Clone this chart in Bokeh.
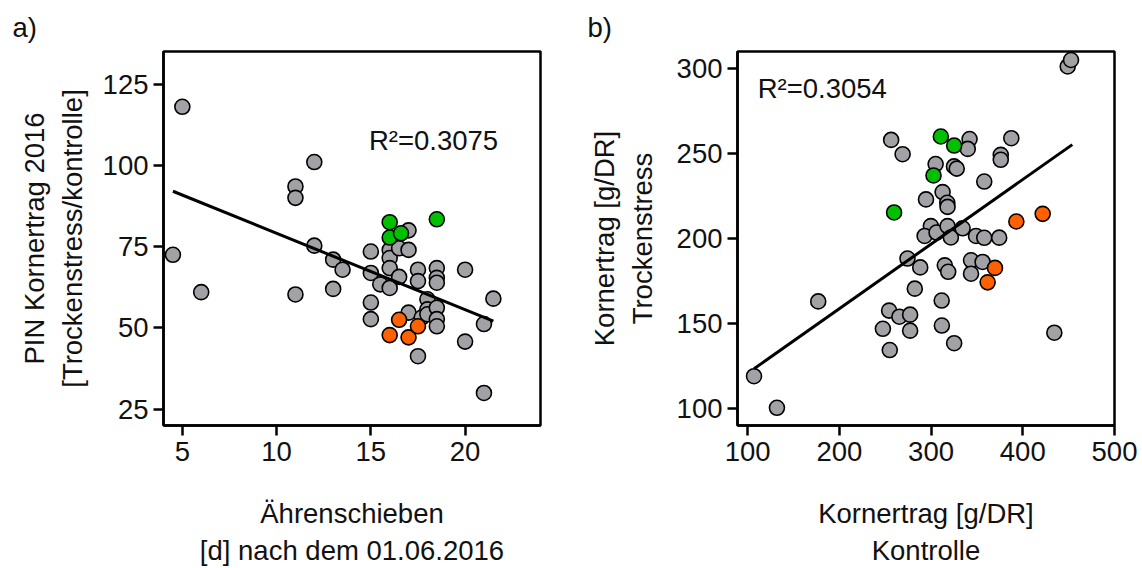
from bokeh.plotting import figure
from bokeh.layouts import row
from bokeh.models import FixedTicker, Label, Range1d, Title
from bokeh.embed import file_html
from bokeh.resources import INLINE

FONT = "Liberation Sans"
FS = "27.5px"
GREY = "#a2a2a6"
GREEN = "#00c000"
ORANGE = "#ff6000"

# ---- a) heading date vs. relative grain yield (drought / control) ----
a_grey_x = [4.5, 5.0, 6.0, 11.0, 11.0, 11.0, 12.0, 12.0, 13.0, 13.0, 13.5,
            15.0, 15.0, 15.0, 15.0, 15.5, 16.0, 16.0, 16.0, 16.0, 16.5, 16.5,
            17.0, 17.0, 17.0, 17.5, 17.5, 17.5, 17.7, 18.0, 18.0, 18.0,
            18.5, 18.5, 18.5, 18.5, 18.5, 18.5, 20.0, 20.0, 21.0, 21.0, 21.5]
a_grey_y = [72.5, 118.0, 61.0, 93.5, 90.0, 60.3, 101.0, 75.3, 71.0, 62.0, 67.9,
            73.5, 66.9, 57.8, 52.7, 63.4, 74.0, 71.5, 68.4, 62.3, 74.5, 65.7,
            80.0, 74.0, 54.7, 67.9, 64.4, 41.3, 53.2, 58.8, 55.7, 54.2,
            68.4, 65.4, 63.9, 56.2, 52.7, 50.5, 67.9, 45.8, 51.2, 30.0, 59.0]
a_green_x = [16.0, 16.0, 16.6, 18.5]
a_green_y = [82.5, 77.8, 79.1, 83.4]
a_orange_x = [16.5, 16.0, 17.0, 17.5]
a_orange_y = [52.5, 47.8, 47.1, 50.5]
a_fit_intercept, a_fit_slope = 102.6, -2.35
a_fit_x = [4.5, 21.5]
a_r2 = "R²=0.3075"
a_xticks = [5, 10, 15, 20]
a_yticks = [25, 50, 75, 100, 125]

# ---- b) grain yield control vs. drought stress ----
b_grey_x = [107, 132, 177, 256.5, 269, 305, 325, 328, 342, 340, 387.5, 376, 376,
            358, 312.6, 294.5, 317.7, 318, 299.8, 293, 306, 318, 321.6, 334.4,
            349, 358, 374.3, 274.3, 288.2, 315, 318.7, 343.6, 356.2, 343.6,
            282.3, 311.6, 254.3, 265.5, 277.2, 247.5, 277.2, 255, 311.8, 325.2,
            434.4, 449, 452.6]
b_grey_y = [119, 100.4, 163, 258, 249.6, 243.8, 242.4, 241.1, 258.5, 252.7, 259, 249.2, 246.3,
            233.5, 227.3, 223, 221, 218.6, 207.3, 201.5, 203.5, 207.3, 200.6, 206,
            201.5, 200.4, 200.5, 188.2, 183, 184.2, 180.4, 187.2, 186.2, 179.3,
            170.5, 163.5, 157.6, 154, 155.2, 146.9, 145.8, 134.4, 148.8, 138.4,
            144.6, 301.2, 305]
b_green_x = [259.7, 310.7, 325.2, 302.7]
b_green_y = [215.3, 260.0, 254.7, 237.1]
b_orange_x = [393.0, 421.7, 369.7, 361.7]
b_orange_y = [210.0, 214.5, 182.7, 174.2]
b_fit_intercept, b_fit_slope = 82.7, 0.38
b_fit_x = [107, 454]
b_r2 = "R²=0.3054"
b_xticks = [100, 200, 300, 400, 500]
b_yticks = [100, 150, 200, 250, 300]


def style(p, xticks, yticks):
    p.xgrid.visible = False
    p.ygrid.visible = False
    p.outline_line_color = "black"
    p.outline_line_width = 2.5
    p.background_fill_color = "white"
    p.border_fill_color = "white"
    for ax, ticks in ((p.xaxis[0], xticks), (p.yaxis[0], yticks)):
        ax.ticker = FixedTicker(ticks=ticks)
        ax.axis_line_color = "black"
        ax.axis_line_width = 2.5
        ax.major_tick_line_color = "black"
        ax.major_tick_line_width = 2.5
        ax.major_tick_out = 10
        ax.major_tick_in = 0
        ax.minor_tick_line_color = None
        ax.major_label_text_font = FONT
        ax.major_label_text_font_size = FS
        ax.major_label_text_color = "#111111"
        ax.axis_label_text_font = FONT
        ax.axis_label_text_font_size = FS
        ax.axis_label_text_font_style = "normal"
        ax.axis_label_text_color = "#111111"
        ax.axis_label_text_line_height = 1.2
    p.xaxis.major_label_standoff = 6
    p.yaxis.major_label_standoff = 5


def scatter_groups(p, gx, gy, grx, gry, ox, oy):
    kw = dict(size=15, line_color="black", line_width=1.6)
    p.scatter(gx, gy, fill_color=GREY, **kw)
    p.scatter(grx, gry, fill_color=GREEN, **kw)
    p.scatter(ox, oy, fill_color=ORANGE, **kw)


def panel_title(text, shift):
    return Title(text=text, align="left", offset=shift, standoff=18,
                 text_font=FONT, text_font_size=FS, text_font_style="normal",
                 text_color="#111111")


# panel a
pa = figure(width=575, height=568, output_backend="svg", toolbar_location=None,
            x_range=Range1d(4, 24), y_range=Range1d(20, 135),
            min_border_left=163, min_border_right=35, min_border_top=50, min_border_bottom=141)
style(pa, a_xticks, a_yticks)
pa.add_layout(panel_title("a)", -151), "above")
pa.xaxis.axis_label = "Ährenschieben\n[d] nach dem 01.06.2016"
pa.yaxis.axis_label = "PIN Kornertrag 2016\n[Trockenstress/kontrolle]"
pa.xaxis.axis_label_standoff = 34
pa.yaxis.axis_label_standoff = 12
scatter_groups(pa, a_grey_x, a_grey_y, a_green_x, a_green_y, a_orange_x, a_orange_y)
pa.line(a_fit_x, [a_fit_intercept + a_fit_slope * x for x in a_fit_x],
        line_color="black", line_width=3)
pa.add_layout(Label(x=14.9, y=107.6, text=a_r2, text_font=FONT, text_font_size=FS,
                    text_baseline="middle", text_color="#111111"))

# panel b
pb = figure(width=567, height=568, output_backend="svg", toolbar_location=None,
            x_range=Range1d(89, 500), y_range=Range1d(90, 310),
            min_border_left=162, min_border_right=28, min_border_top=49, min_border_bottom=141)
style(pb, b_xticks, b_yticks)
pb.add_layout(panel_title("b)", -150), "above")
pb.xaxis.axis_label = "Kornertrag [g/DR]\nKontrolle"
pb.yaxis.axis_label = "Kornertrag [g/DR]\nTrockenstress"
pb.xaxis.axis_label_standoff = 34
pb.yaxis.axis_label_standoff = 16
scatter_groups(pb, b_grey_x, b_grey_y, b_green_x, b_green_y, b_orange_x, b_orange_y)
pb.line(b_fit_x, [b_fit_intercept + b_fit_slope * x for x in b_fit_x],
        line_color="black", line_width=3)
pb.add_layout(Label(x=111, y=288, text=b_r2, text_font=FONT, text_font_size=FS,
                    text_baseline="middle", text_color="#111111"))

layout = row(pa, pb)
open("out.html", "w").write(file_html(layout, INLINE))
